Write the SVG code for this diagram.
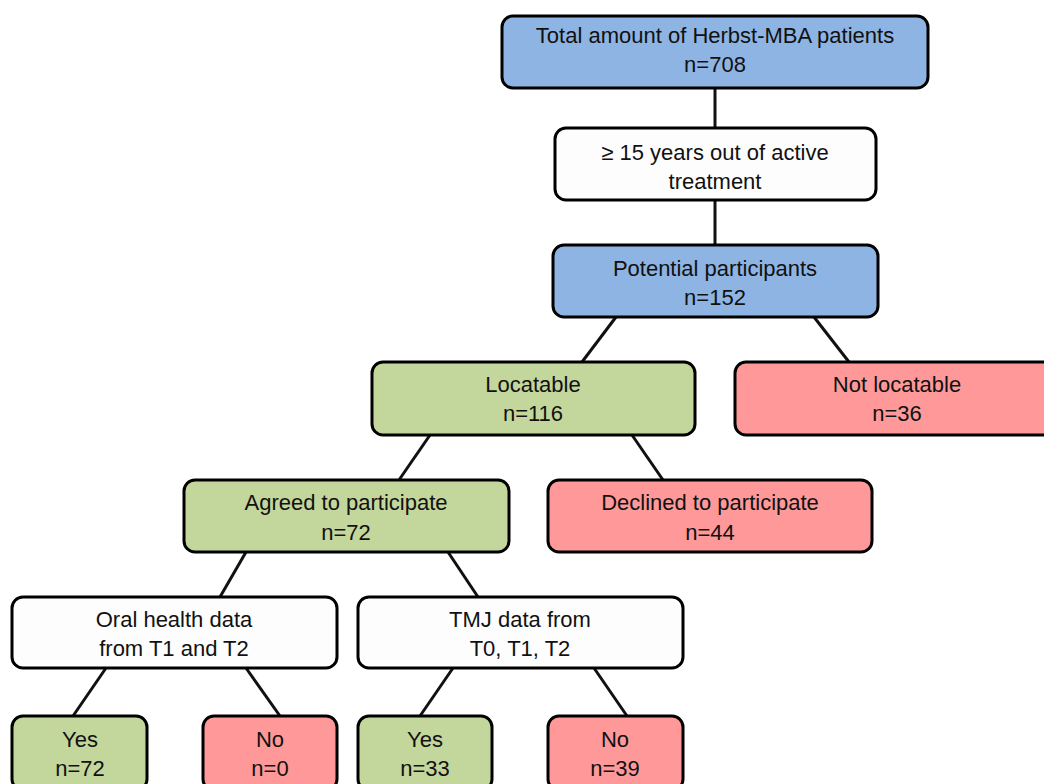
<svg xmlns="http://www.w3.org/2000/svg" width="1044" height="784" viewBox="0 0 1044 784">
<style>
rect{stroke:#000;stroke-width:3;}
.b{fill:#8EB4E3}.g{fill:#C3D69B}.r{fill:#FF9999}.w{fill:#FDFDFD}
text{font-family:"Liberation Sans",Arial,sans-serif;font-size:22px;fill:#111;text-anchor:middle}
#connectors line{stroke:#111;stroke-width:3}
</style>
<rect width="1044" height="784" fill="#fff" style="stroke:none"/>
<g id="connectors">
<line x1="715" y1="88" x2="715" y2="128"/>
<line x1="715" y1="200" x2="715" y2="245"/>
<line x1="616" y1="317" x2="582" y2="362"/>
<line x1="814" y1="317" x2="849" y2="362"/>
<line x1="430" y1="435" x2="399" y2="480"/>
<line x1="632" y1="435" x2="663" y2="480"/>
<line x1="246" y1="552" x2="220" y2="597"/>
<line x1="448" y1="552" x2="478" y2="597"/>
<line x1="106" y1="668" x2="73" y2="716"/>
<line x1="246" y1="668" x2="280" y2="716"/>
<line x1="453" y1="668" x2="420" y2="716"/>
<line x1="594" y1="668" x2="627" y2="716"/>
</g>
<g id="total"><rect class="b" x="502" y="16" width="426" height="72" rx="11"/><text x="715" y="43">Total amount of Herbst-MBA patients</text><text x="715" y="72">n=708</text></g>
<g id="years"><rect class="w" x="555" y="128" width="321" height="72" rx="11"/><text x="715" y="160">≥ 15 years out of active</text><text x="715" y="189">treatment</text></g>
<g id="potential"><rect class="b" x="553" y="245" width="325" height="72" rx="11"/><text x="715" y="276">Potential participants</text><text x="715" y="305">n=152</text></g>
<g id="locatable"><rect class="g" x="372" y="362" width="323" height="73" rx="11"/><text x="533" y="392">Locatable</text><text x="533" y="421">n=116</text></g>
<g id="notlocatable"><rect class="r" x="735" y="362" width="325" height="73" rx="11"/><text x="897" y="392">Not locatable</text><text x="897" y="421">n=36</text></g>
<g id="agreed"><rect class="g" x="184" y="480" width="325" height="72" rx="11"/><text x="346" y="510">Agreed to participate</text><text x="346" y="540">n=72</text></g>
<g id="declined"><rect class="r" x="548" y="480" width="324" height="72" rx="11"/><text x="710" y="510">Declined to participate</text><text x="710" y="540">n=44</text></g>
<g id="oral"><rect class="w" x="12" y="597" width="325" height="71" rx="11"/><text x="174" y="627">Oral health data</text><text x="174" y="656">from T1 and T2</text></g>
<g id="tmj"><rect class="w" x="358" y="597" width="325" height="71" rx="11"/><text x="520" y="627">TMJ data from</text><text x="520" y="656">T0, T1, T2</text></g>
<g id="yes1"><rect class="g" x="12" y="716" width="135" height="74" rx="11"/><text x="80" y="747">Yes</text><text x="80" y="776">n=72</text></g>
<g id="no1"><rect class="r" x="203" y="716" width="134" height="74" rx="11"/><text x="270" y="747">No</text><text x="270" y="776">n=0</text></g>
<g id="yes2"><rect class="g" x="358" y="716" width="134" height="74" rx="11"/><text x="425" y="747">Yes</text><text x="425" y="776">n=33</text></g>
<g id="no2"><rect class="r" x="548" y="716" width="135" height="74" rx="11"/><text x="615" y="747">No</text><text x="615" y="776">n=39</text></g>
</svg>
